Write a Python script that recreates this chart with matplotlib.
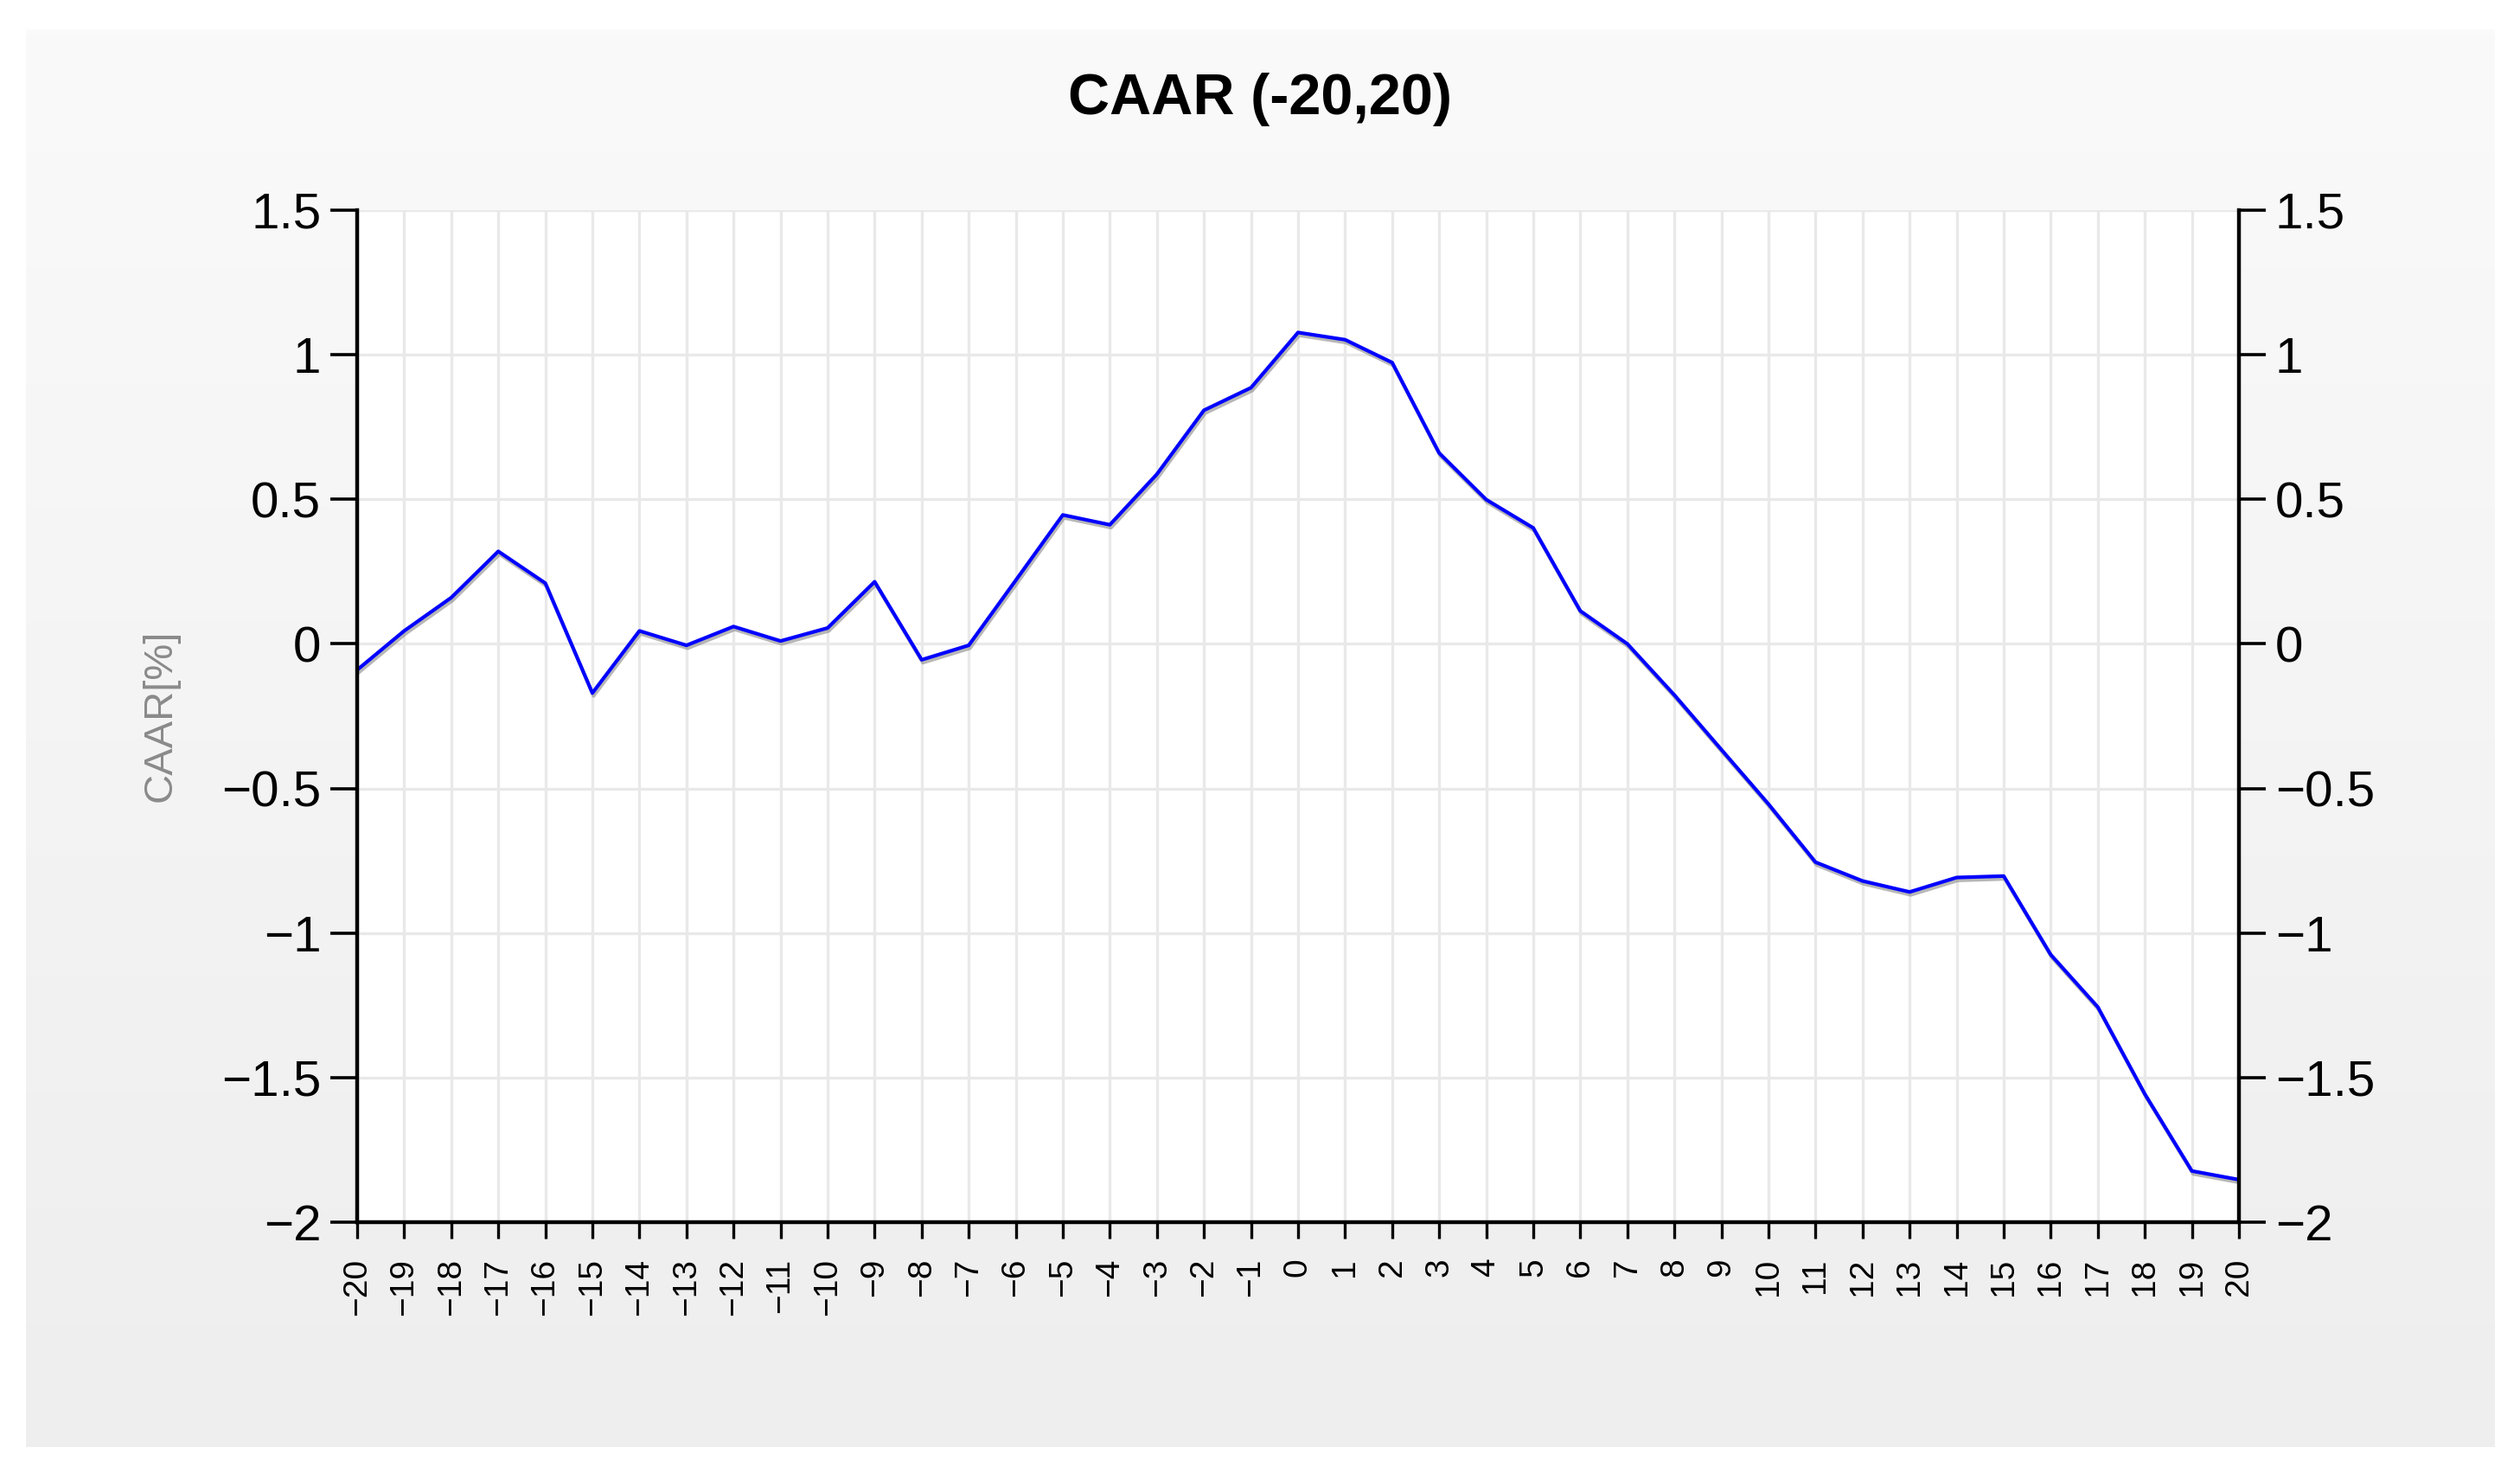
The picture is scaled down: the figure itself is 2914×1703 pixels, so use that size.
from matplotlib import pyplot as plt
from matplotlib import patheffects
from matplotlib.colors import LinearSegmentedColormap
import numpy as np

plt.rcParams['figure.figsize'] = [14.57, 8.515]
plt.rcParams['figure.dpi'] = 200
plt.rcParams['font.family'] = ['Liberation Sans', 'DejaVu Sans']

# event window days and cumulative average abnormal return [%]
event_days = list(range(-20, 21))
caar = [-0.09, 0.045, 0.16, 0.32, 0.21, -0.17, 0.045, -0.005, 0.06, 0.01,
        0.055, 0.215, -0.055, -0.005, 0.22, 0.446, 0.412, 0.587, 0.808, 0.886,
        1.077, 1.052, 0.973, 0.66, 0.499, 0.401, 0.114, 0.0, -0.177, -0.366,
        -0.554, -0.755, -0.82, -0.858, -0.808, -0.803, -1.075, -1.256, -1.557,
        -1.823, -1.853]
day_labels = [str(d).replace("-", "\u2212") for d in event_days]
y_ticks = [-2, -1.5, -1, -0.5, 0, 0.5, 1, 1.5]
y_tick_labels = ["\u22122", "\u22121.5", "\u22121", "\u22120.5", "0", "0.5", "1", "1.5"]

W, H = 2914, 1703
grid_style = {"color": "#e9e9e9", "linewidth": 1.2}
line_style = {"color": "#0000ff", "linewidth": 1.5}


def add_background(fig):
    # light grey gradient panel behind the chart
    bg = fig.add_axes([30 / W, 1 - 1673 / H, (2885 - 30) / W, (1673 - 34) / H])
    cmap = LinearSegmentedColormap.from_list("panel", ["#eeeeee", "#fafafa"])
    bg.imshow(np.linspace(0, 1, 256).reshape(-1, 1), aspect="auto", cmap=cmap,
              origin="lower", extent=[0, 1, 0, 1])
    bg.axis("off")
    return bg


def plot_caar():
    fig = plt.figure()
    add_background(fig)

    ax = fig.add_axes([413 / W, 1 - 1413 / H, (2589 - 413) / W, (1413 - 243) / H])
    ax.set_facecolor("white")
    ax.set_xlim(-20, 20)
    ax.set_ylim(-2, 1.5)

    ax.set_xticks(event_days)
    ax.set_xticklabels(day_labels, rotation=90, fontsize=14)
    ax.set_yticks(y_ticks)
    ax.set_yticklabels(y_tick_labels, fontsize=21)

    ax.grid(True, **grid_style)
    ax.set_axisbelow(True)

    for side in ["left", "right", "bottom"]:
        ax.spines[side].set_linewidth(1.6)
    ax.spines["top"].set_visible(False)

    ax.tick_params(axis="y", which="both", left=True, right=True,
                   labelleft=True, labelright=True,
                   length=11, width=1.3, pad=4)
    ax.tick_params(axis="x", length=7, width=1.2, pad=8)

    ax.plot(event_days, caar, **line_style,
            path_effects=[patheffects.SimpleLineShadow(offset=(0.5, -1.2), shadow_color="#888888", alpha=0.6),
                          patheffects.Normal()])

    fig.text(0.5, 1 - 115 / H, "CAAR (-20,20)", ha="center", va="center",
             fontsize=24, fontweight="bold")
    fig.text(186 / W, 1 - 827 / H, "CAAR[%]", ha="center", va="center",
             rotation=90, fontsize=17, color="#8a8a8a")

    fig.savefig("out.png", dpi=200, facecolor="white")
    plt.close("all")


if __name__ == '__main__':
    plot_caar()
